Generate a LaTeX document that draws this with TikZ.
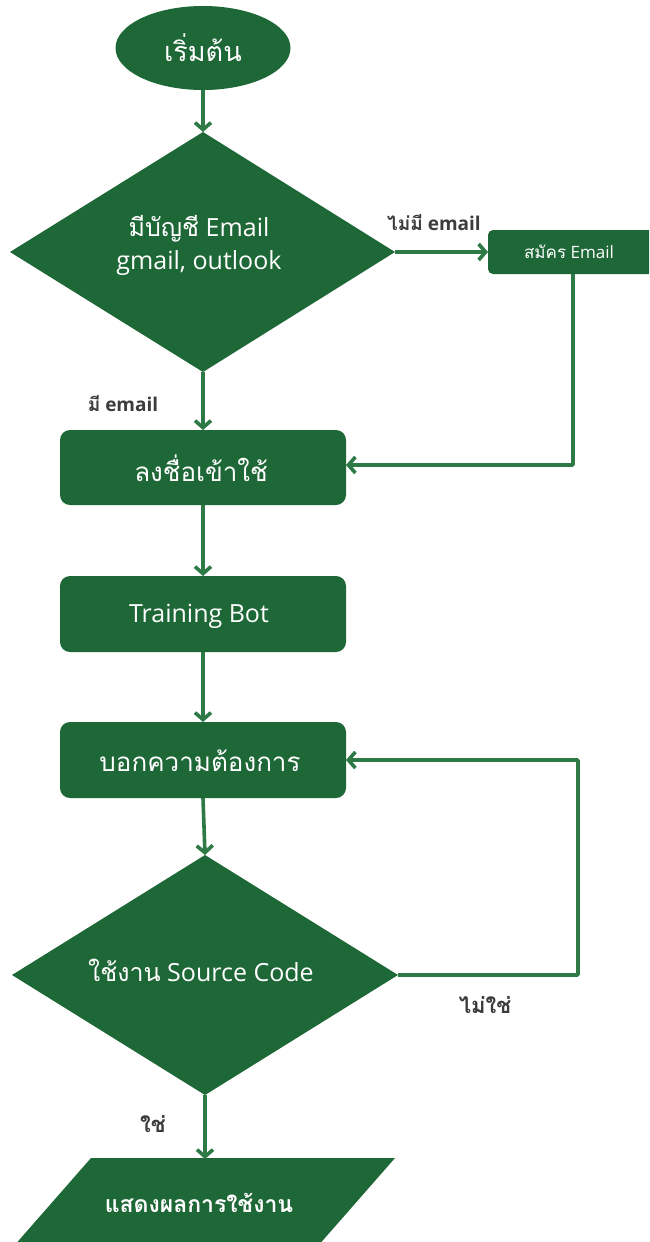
\documentclass[tikz,border=0pt]{standalone}
\usepackage{fontspec}
\setmainfont{Open Sans}
\newfontfamily\thf[Script=Thai]{Loma}
\usetikzlibrary{arrows.meta,shapes.geometric}
\definecolor{gfill}{RGB}{30,103,54}
\definecolor{gline}{RGB}{46,122,70}
\definecolor{lbl}{RGB}{60,60,60}
\tikzset{
  boxnode/.style={fill=gfill,rounded corners=9pt,text=white,font=\fontsize{23}{28}\selectfont},
  flow/.style={draw=gline,line width=3.6pt,-{Straight Barb[length=7pt,width=16pt,line width=3.6pt]}},
  plainline/.style={draw=gline,line width=3.6pt},
  lab/.style={text=lbl,font=\fontsize{19}{22}\selectfont\bfseries},
}
\begin{document}
\begin{tikzpicture}[x=1pt,y=-1pt]
\clip (0,0) rectangle (649,1242);
\fill[white] (0,0) rectangle (649,1242);
% shapes
\fill[gfill] (203,48) ellipse [x radius=87.5,y radius=42];
\node[text=white,font=\fontsize{27}{30}\selectfont] (start) at (203,48) {\thf เริ่มต้น};
\coordinate (startb) at (203,90);

\fill[gfill] (203,132) -- (395,252) -- (203,372) -- (10,252) -- cycle;
\coordinate (d1t) at (203,132);
\coordinate (d1r) at (395,252);
\coordinate (d1b) at (203,372);
\node[text=white,font=\fontsize{25}{33}\selectfont,align=center] (d1) at (199,245) {{\thf มีบัญชี} Email\\gmail, outlook};

\fill[gfill,rounded corners=5pt] (488,230) rectangle (670,274);
\node[text=white,font=\fontsize{17}{20}\selectfont] (reg) at (569,252) {{\thf สมัคร} Email};
\coordinate (regl) at (488,252);
\coordinate (regb) at (573,274);
\coordinate (regc) at (573,465);

\fill[gfill,rounded corners=10pt] (60,430) rectangle (346,505);
\node[text=white,font=\fontsize{26}{30}\selectfont] (login) at (201,468) {\thf ลงชื่อเข้าใช้};
\coordinate (logint) at (203,430);
\coordinate (loginr) at (346,465);
\coordinate (loginb) at (203,505);

\fill[gfill,rounded corners=10pt] (60,576) rectangle (346,652);
\node[text=white,font=\fontsize{25}{28}\selectfont] (train) at (199,616) {Training Bot};
\coordinate (traint) at (203,576);
\coordinate (trainb) at (203,652);

\fill[gfill,rounded corners=10pt] (60,722) rectangle (346,798);
\node[text=white,font=\fontsize{26}{30}\selectfont] (ask) at (200,761) {\thf บอกความต้องการ};
\coordinate (askt) at (203,722);
\coordinate (askr) at (346,760);
\coordinate (askb) at (203,798);

\fill[gfill] (205,855) -- (398,975) -- (205,1095) -- (12,975) -- cycle;
\node[text=white,font=\fontsize{25}{30}\selectfont] (d2) at (201,970) {{\thf ใช้งาน} Source Code};
\coordinate (d2t) at (205,855);
\coordinate (d2r) at (398,975);
\coordinate (d2b) at (205,1095);
\coordinate (loopa) at (578,975);
\coordinate (loopb) at (578,760);

\fill[gfill] (91,1158) -- (395,1158) -- (310,1255) -- (6,1255) -- cycle;
\node[text=white,font=\bfseries\fontsize{23}{26}\selectfont] (out) at (199,1203) {\thf แสดงผลการใช้งาน};
\coordinate (outt) at (205,1159);

% connectors
\draw[flow] (startb) -- (d1t);
\draw[flow] (d1r) -- (regl);
\draw[flow] (d1b) -- (logint);
\draw[flow, rounded corners=1pt] (regb) -- (regc) -- (loginr);
\draw[flow] (loginb) -- (traint);
\draw[flow] (trainb) -- (askt);
\draw[flow] (askb) -- (d2t);
\draw[flow, rounded corners=1pt] (d2r) -- (loopa) -- (loopb) -- (askr);
\draw[flow] (d2b) -- (outt);

% labels
\node[lab] (l1) at (434,223) {{\thf ไม่มี} email};
\node[lab] (l2) at (123,404) {{\thf มี} email};
\node[lab,font=\fontsize{22}{24}\selectfont\bfseries] (l3) at (485,1005) {\thf ไม่ใช่};
\node[lab,font=\fontsize{22}{24}\selectfont\bfseries] (l4) at (153,1124) {\thf ใช่};
\end{tikzpicture}
\end{document}
